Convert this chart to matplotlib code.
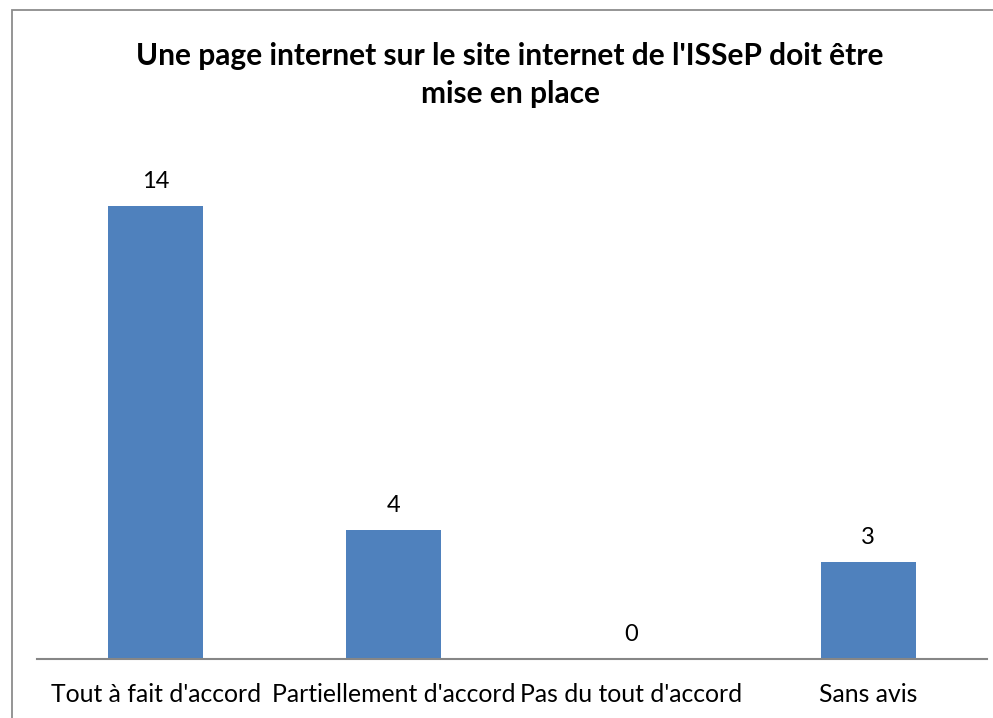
import matplotlib
matplotlib.use('Agg')
import matplotlib.pyplot as plt
from matplotlib.patches import Rectangle

categories = ["Tout à fait d'accord", "Partiellement d'accord", "Pas du tout d'accord", "Sans avis"]
values = [14, 4, 0, 3]
title = "Une page internet sur le site internet de l'ISSeP doit être\nmise en place"

plt.rcParams['font.family'] = ['Lato', 'DejaVu Sans']

W, H = 993, 718
fig = plt.figure(figsize=(W / 100, H / 100), dpi=100)

# cadre gris du graphique (coupé à droite et en bas)
fig.patches.append(Rectangle((12 / W, -0.05), 1.1, 1 - 10 / H + 0.05,
                             transform=fig.transFigure, fill=False,
                             edgecolor='#8c8c8c', linewidth=1.3))

ax = fig.add_axes([37 / W, 59 / H, 950 / W, 518 / H])
x = list(range(len(categories)))
ax.bar(x, values, width=0.4, color='#4f81bd')
ax.set_xlim(-0.5, len(categories) - 0.5)
ax.set_ylim(0, 16)

for xi, v in zip(x, values):
    ax.annotate(str(v), (xi, v), xytext=(0, 10), textcoords='offset points',
                ha='center', va='bottom', fontsize=17)

for s in ['top', 'right', 'left']:
    ax.spines[s].set_visible(False)
ax.spines['bottom'].set_color('#868686')
ax.spines['bottom'].set_linewidth(1.5)
ax.set_yticks([])
ax.set_xticks(x)
ax.set_xticklabels(categories, fontsize=17.8)
ax.tick_params(axis='x', length=0, pad=17)

fig.text(510 / W, 1 - 75 / H, title, ha='center', va='center',
         fontsize=21.5, fontweight='bold', linespacing=1.42)

fig.savefig('out.png', dpi=100)
